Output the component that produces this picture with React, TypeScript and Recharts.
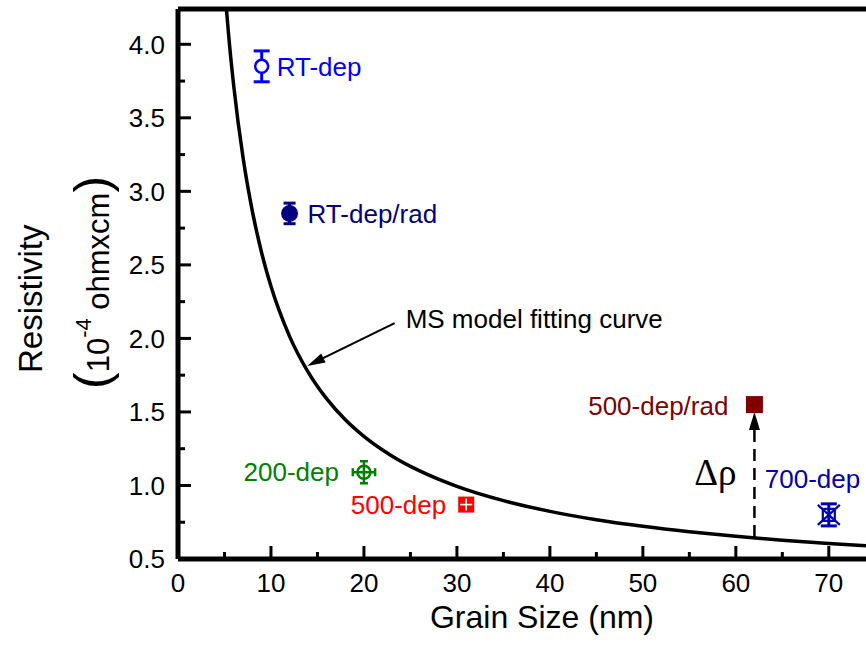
import React from 'react';
import {
  ComposedChart,
  Line,
  Scatter,
  XAxis,
  YAxis,
  ErrorBar,
  ReferenceLine,
  ReferenceDot,
} from 'recharts';

const FONT = '"Liberation Sans", Arial, Helvetica, sans-serif';
const SERIF = '"Liberation Serif", "Times New Roman", serif';

// ---- data ----
// MS model fitting curve
const curveGrain = [5.0, 5.5, 6, 7, 8, 9, 10, 12, 14, 16, 18, 20, 23, 26, 30, 35, 40, 45, 50, 55, 60, 65, 70, 74];
const curveRes = [4.394, 4.023, 3.714, 3.228, 2.864, 2.581, 2.354, 2.014, 1.771, 1.589, 1.447, 1.334, 1.201, 1.099, 0.994, 0.897, 0.824, 0.767, 0.722, 0.685, 0.654, 0.628, 0.605, 0.59];

// measured samples
const samples = ['RT-dep', 'RT-dep/rad', '200-dep', '500-dep', '500-dep/rad', '700-dep'];
const grainSize = [9, 12, 20, 31, 62, 70];
const resistivity = [3.85, 2.85, 1.09, 0.87, 1.55, 0.8];
const resistivityErr = [0.105, 0.07, 0.075, 0.05, 0, 0.075];
const grainErr = [0, 0, 1.2, 0, 0, 0];

// axis ticks
const xTicks = [0, 5, 10, 15, 20, 25, 30, 35, 40, 45, 50, 55, 60, 65, 70];
const yTicks = [0.5, 0.75, 1.0, 1.25, 1.5, 1.75, 2.0, 2.25, 2.5, 2.75, 3.0, 3.25, 3.5, 3.75, 4.0];
const xDomain = [0, 74];
const yDomain = [0.5, 4.24];

// Δρ annotation: from fitting curve up to the 500-dep/rad point
const deltaGrain = 62;
const deltaFrom = 0.65;
const deltaTo = 1.5;

// ---- styles ----
const sampleColors = ['#0000FF', '#000080', '#008000', '#FF0000', '#800000', '#0000B0'];
const labelPlacement = [
  { dx: 15, dy: 10, anchor: 'start' },
  { dx: 18, dy: 10, anchor: 'start' },
  { dx: -25, dy: 9, anchor: 'end' },
  { dx: -20, dy: 9, anchor: 'end' },
  { dx: -26, dy: 10, anchor: 'end' },
  { dx: -64, dy: -27, anchor: 'start' },
];

const curveData = curveGrain.map((x, i) => ({ x, y: curveRes[i] }));
const sampleData = samples.map((name, i) => [
  { name, x: grainSize[i], y: resistivity[i], ey: resistivityErr[i], ex: grainErr[i] },
]);

const XTick = (props: any) => {
  const { x, y, payload } = props;
  const v = payload.value;
  const major = Math.abs(v % 10) < 1e-6;
  return (
    <g>
      <line x1={x} x2={x} y1={y} y2={y - (major ? 13 : 7)} stroke="#000" strokeWidth={3} />
      {major && (
        <text x={x} y={y + 33} textAnchor="middle" fontSize={26} fontFamily={FONT} fill="#000">
          {v}
        </text>
      )}
    </g>
  );
};

const YTick = (props: any) => {
  const { x, y, payload } = props;
  const v = payload.value;
  const major = Math.abs(v * 2 - Math.round(v * 2)) < 1e-6;
  return (
    <g>
      <line x1={x} x2={x + (major ? 13 : 7)} y1={y} y2={y} stroke="#000" strokeWidth={3} />
      {major && (
        <text x={x - 13} y={y + 9.3} textAnchor="end" fontSize={26} fontFamily={FONT} fill="#000">
          {v.toFixed(1)}
        </text>
      )}
    </g>
  );
};

const XTitle = () => (
  <text x={542} y={628} textAnchor="middle" fontSize={32} fontFamily={FONT} fill="#000">
    Grain Size (nm)
  </text>
);

const YTitle = () => (
  <g>
    <g transform="translate(42, 373) rotate(-90)">
      <text x={0} y={0} fontSize={33} fontFamily={FONT} fill="#000">
        Resistivity
      </text>
    </g>
    <g transform="translate(109, 389) rotate(-90)">
      <text x={0} y={0} fontFamily={FONT} fill="#000">
        <tspan fontSize={50}>(</tspan>
        <tspan fontSize={31}>10</tspan>
        <tspan fontSize={22} dy={-18}>-4</tspan>
        <tspan fontSize={31} dy={18}>{' ohmxcm'}</tspan>
        <tspan fontSize={50}>)</tspan>
      </text>
    </g>
  </g>
);

const arrowHead = (x2: number, y2: number, ux: number, uy: number, len: number, half: number, color: string) => {
  const bx = x2 - ux * len;
  const by = y2 - uy * len;
  const px = -uy;
  const py = ux;
  const pts = `${x2},${y2} ${bx + px * half},${by + py * half} ${bx - px * half},${by - py * half}`;
  return <polygon points={pts} fill={color} />;
};

const makeArrow = (dash: string | undefined, width: number, len: number, half: number) => (p: any) => {
  const { x1, y1, x2, y2 } = p;
  const dx = x2 - x1;
  const dy = y2 - y1;
  const L = Math.sqrt(dx * dx + dy * dy) || 1;
  const ux = dx / L;
  const uy = dy / L;
  return (
    <g>
      <line
        x1={x1}
        y1={y1}
        x2={x2 - ux * (len - 2)}
        y2={y2 - uy * (len - 2)}
        stroke="#000"
        strokeWidth={width}
        strokeDasharray={dash}
      />
      {arrowHead(x2, y2, ux, uy, len, half, '#000')}
    </g>
  );
};

const openCircle = (color: string, fill: string) => (p: any) => (
  <circle cx={p.cx} cy={p.cy} r={6.5} fill={fill} stroke={color} strokeWidth={2.5} />
);
const filledCircle = (color: string) => (p: any) => <circle cx={p.cx} cy={p.cy} r={8.5} fill={color} />;
const crossSquare = (color: string) => (p: any) => (
  <g>
    <rect x={p.cx - 8} y={p.cy - 8} width={16} height={16} fill={color} />
    <line x1={p.cx - 6} x2={p.cx + 6} y1={p.cy} y2={p.cy} stroke="#fff" strokeWidth={1.6} />
    <line x1={p.cx} x2={p.cx} y1={p.cy - 6} y2={p.cy + 6} stroke="#fff" strokeWidth={1.6} />
  </g>
);
const filledSquare = (color: string) => (p: any) => (
  <rect x={p.cx - 8.5} y={p.cy - 8.5} width={17} height={17} fill={color} />
);
const starX = (color: string) => (p: any) => (
  <g stroke={color} strokeWidth={2.2} fill="none">
    <line x1={p.cx - 11} y1={p.cy - 10} x2={p.cx + 11} y2={p.cy + 10} />
    <line x1={p.cx + 11} y1={p.cy - 10} x2={p.cx - 11} y2={p.cy + 10} />
    <rect x={p.cx - 6} y={p.cy - 6} width={12} height={12} />
  </g>
);

const shapes = [
  openCircle(sampleColors[0], '#fff'),
  filledCircle(sampleColors[1]),
  openCircle(sampleColors[2], 'none'),
  crossSquare(sampleColors[3]),
  filledSquare(sampleColors[4]),
  starX(sampleColors[5]),
];

export default function App() {
  return (
    <div>
      <style>{'body{margin:0;}'}</style>
      <ComposedChart width={866} height={647} margin={{ top: 9, right: 0, bottom: 0, left: 0 }}>
        <XAxis
          type="number"
          dataKey="x"
          domain={xDomain}
          ticks={xTicks}
          interval={0}
          allowDataOverflow
          height={88}
          tickSize={0}
          tickMargin={0}
          tickLine={false}
          axisLine={{ stroke: '#000', strokeWidth: 5 }}
          tick={<XTick />}
          label={<XTitle />}
        />
        <YAxis
          type="number"
          domain={yDomain}
          ticks={yTicks}
          interval={0}
          allowDataOverflow
          width={178}
          tickSize={0}
          tickMargin={0}
          tickLine={false}
          axisLine={{ stroke: '#000', strokeWidth: 5 }}
          tick={<YTick />}
          label={<YTitle />}
        />
        <ReferenceLine y={yDomain[1]} stroke="#000" strokeWidth={5} />
        <Line
          data={curveData}
          dataKey="y"
          type="monotone"
          stroke="#000"
          strokeWidth={3.5}
          dot={false}
          activeDot={false}
          isAnimationActive={false}
        />
        {sampleData.map((d, i) => (
          <Scatter
            key={samples[i]}
            name={samples[i]}
            data={d}
            dataKey="y"
            fill={sampleColors[i]}
            shape={shapes[i]}
            isAnimationActive={false}
          >
            {resistivityErr[i] > 0 && i !== 3 && (
              <ErrorBar
                dataKey="ey"
                direction="y"
                width={i === 2 ? 4 : i === 1 ? 6 : 8}
                stroke={sampleColors[i]}
                strokeWidth={i === 2 ? 2.5 : 3}
                isAnimationActive={false}
              />
            )}
            {grainErr[i] > 0 && (
              <ErrorBar
                dataKey="ex"
                direction="x"
                width={4}
                stroke={sampleColors[i]}
                strokeWidth={2.5}
                isAnimationActive={false}
              />
            )}
          </Scatter>
        ))}
        {samples.map((name, i) => {
          const lp = labelPlacement[i];
          return (
            <ReferenceDot
              key={'lbl' + name}
              x={grainSize[i]}
              y={resistivity[i]}
              r={0}
              shape={(p: any) => (
                <text
                  x={p.cx + lp.dx}
                  y={p.cy + lp.dy}
                  textAnchor={lp.anchor as any}
                  fontSize={26}
                  fontFamily={FONT}
                  fill={sampleColors[i]}
                >
                  {name}
                </text>
              )}
            />
          );
        })}
        <ReferenceLine
          segment={[
            { x: deltaGrain, y: deltaFrom },
            { x: deltaGrain, y: deltaTo },
          ]}
          shape={makeArrow('12 7', 2.5, 18, 5.5)}
        />
        <ReferenceDot
          x={deltaGrain}
          y={1.0}
          r={0}
          shape={(p: any) => (
            <text x={p.cx - 18} y={p.cy} textAnchor="end" fontSize={37} fontFamily={SERIF} fill="#000">
              Δρ
            </text>
          )}
        />
        <ReferenceLine
          segment={[
            { x: 23.3, y: 2.104 },
            { x: 13.9, y: 1.813 },
          ]}
          shape={makeArrow(undefined, 2.2, 18, 5)}
        />
        <ReferenceDot
          x={23.3}
          y={2.104}
          r={0}
          shape={(p: any) => (
            <text x={p.cx + 11} y={p.cy + 5} fontSize={26} fontFamily={FONT} fill="#000">
              MS model fitting curve
            </text>
          )}
        />
      </ComposedChart>
    </div>
  );
}
